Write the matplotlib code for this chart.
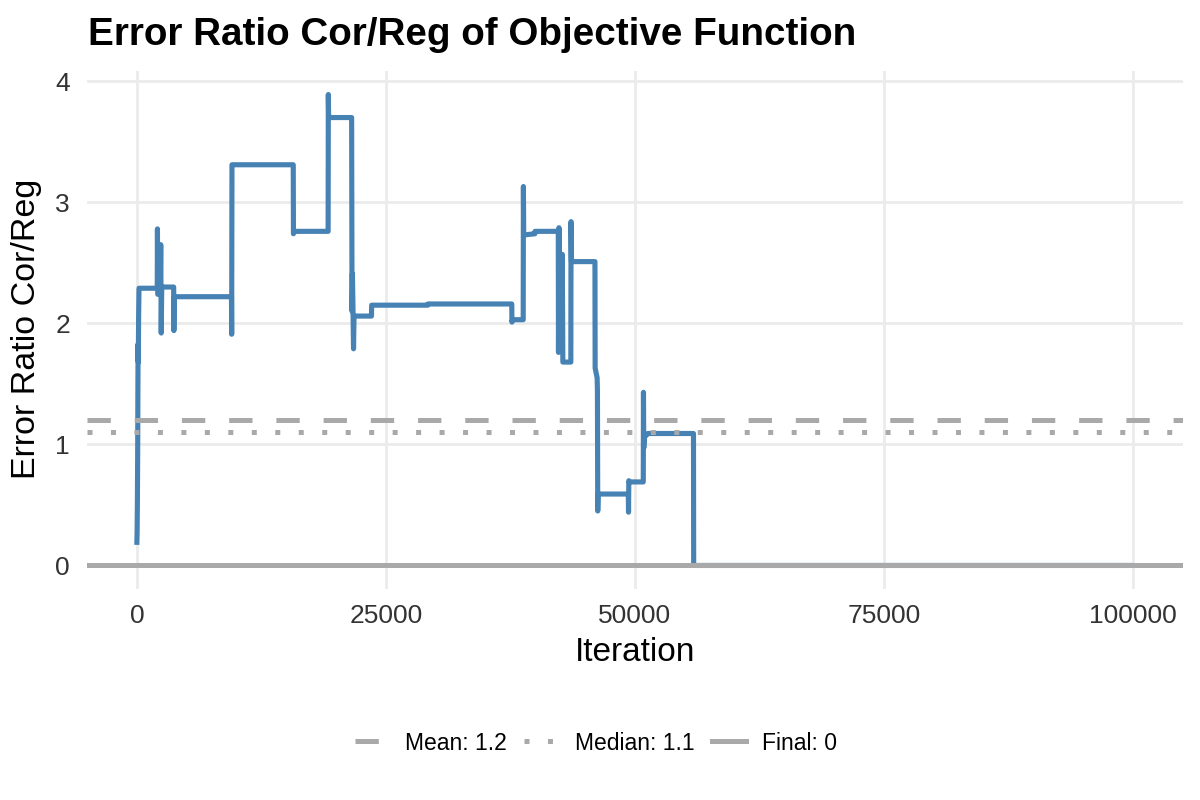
import matplotlib
matplotlib.use('Agg')
import matplotlib.pyplot as plt
from matplotlib.lines import Line2D

plt.rcParams['font.family'] = ['Liberation Sans', 'DejaVu Sans']
plt.rcParams['lines.scale_dashes'] = False

# error ratio trace
iteration = [0, 30, 60, 90, 110, 130, 150, 180, 220,
             2050, 2070, 2100, 2350, 2400, 2450, 2500,
             3700, 3720, 3750,
             9500, 9520, 9550,
             15700, 15720, 15750,
             19200, 19220, 19250,
             21560, 21600, 21640, 21700, 21750, 21800,
             23550, 23570, 29200, 29220,
             37630, 37650, 37700,
             38780, 38800, 38830, 39950, 39970,
             42300, 42320, 42370, 42400, 42700, 42760,
             43560, 43580, 43620,
             45980, 46000, 46200, 46230, 46260, 46300,
             49330, 49350, 49380, 49420,
             50830, 50850, 50880, 50950, 51300,
             55870, 55890, 100000]
ratio = [0.17, 0.28, 0.55, 1.0, 1.5, 1.83, 1.68, 2.05, 2.29,
         2.29, 2.78, 2.24, 2.25, 2.65, 1.92, 2.30,
         2.30, 1.94, 2.22,
         2.22, 1.91, 3.31,
         3.31, 2.74, 2.76,
         2.76, 3.89, 3.70,
         3.70, 2.10, 2.41, 2.10, 1.79, 2.06,
         2.06, 2.15, 2.15, 2.16,
         2.16, 2.01, 2.03,
         2.03, 3.13, 2.73, 2.74, 2.76,
         2.76, 1.76, 2.79, 1.77, 2.57, 1.68,
         1.68, 2.84, 2.51,
         2.51, 1.63, 1.55, 1.44, 0.45, 0.59,
         0.59, 0.44, 0.70, 0.69,
         0.69, 1.43, 0.97, 1.06, 1.09,
         1.09, 0.0, 0.0]

stat_names = ['Mean: 1.2', 'Median: 1.1', 'Final: 0']
stat_values = [1.2, 1.1, 0.0]
stat_dashes = [(0, (16.8, 17.2)), (0, (3.6, 13.3)), '-']

gray = '#A9A9A9'
blue = '#4682B4'

fig = plt.figure(figsize=(12, 8), dpi=100)
ax = fig.add_axes([87/1200, 1 - 589/800, 1096/1200, 518/800])

ax.plot(iteration, ratio, color=blue, lw=3.7, solid_joinstyle='round',
        solid_capstyle='butt', zorder=2)
handles = []
for name, val, ls in zip(stat_names, stat_values, stat_dashes):
    ax.axhline(val, color=gray, lw=3.6, linestyle=ls, dash_capstyle='butt',
               zorder=3)
    handles.append(Line2D([], [], color=gray, lw=3.6, linestyle=ls,
                          dash_capstyle='butt', label=name))

ax.set_xlim(-5000, 105000)
ax.set_ylim(-0.1945, 4.0845)
ax.set_xticks([0, 25000, 50000, 75000, 100000])
ax.set_xticklabels(['0', '25000', '50000', '75000', '100000'])
ax.set_yticks([0, 1, 2, 3, 4])
ax.grid(True, color='#EBEBEB', lw=2.0, zorder=0)
ax.set_axisbelow(True)
for s in ax.spines.values():
    s.set_visible(False)
ax.tick_params(axis='x', length=0, pad=10.5, labelsize=19, labelcolor='#333333')
ax.tick_params(axis='y', length=0, pad=12.2, labelsize=19, labelcolor='#333333')

fig.text(88/1200, 1 - 45/800, 'Error Ratio Cor/Reg of Objective Function',
         fontsize=27.8, fontweight='bold', ha='left', va='baseline', color='black')
fig.text(635/1200, 1 - 661/800, 'Iteration', fontsize=24, ha='center',
         va='baseline', color='black')
fig.text(27/1200, 1 - 329/800, 'Error Ratio Cor/Reg', fontsize=24.5, rotation=90,
         ha='center', va='center', color='black')

fig.legend(handles=handles, loc='center', bbox_to_anchor=(596/1200, 1 - 743/800),
           ncol=3, frameon=False, fontsize=16.5, handlelength=1.5,
           handletextpad=0.7, columnspacing=0.75)

fig.savefig('out.png', dpi=100)
